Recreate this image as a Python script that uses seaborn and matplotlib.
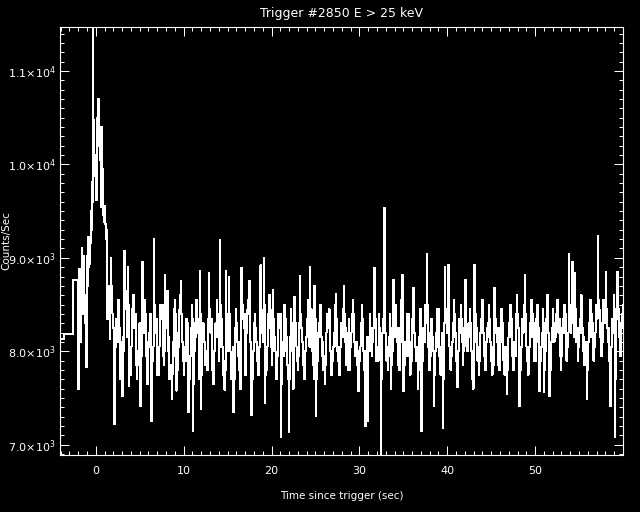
import numpy as np
import pandas as pd
import matplotlib
matplotlib.use("Agg")
import matplotlib.pyplot as plt
from matplotlib.ticker import MultipleLocator, FixedLocator
import seaborn as sns

# pre-trigger coarse bins (edges in sec, rate in counts/sec)
pre_edges = [-4.07, -3.6, -2.56, -2.0]
pre_rate = [8130, 8180, 8760]

# fine bins start at -2.0 s, 64 ms wide
fine_start = -2.0
fine_dt = 0.064

rate_rise = [7600, 8300, 8880, 8500, 8100, 8750, 9100, 8400, 8450, 8800, 9020, 8600,
             8300, 7900, 7830, 8650, 9020, 8700, 9220, 8900, 8930, 9150, 9500, 9300]
rate_peak = [9810, 9600, 11600, 10200, 10480, 9950, 9870, 10100, 9620, 9900, 10500, 10200,
             10700, 10350, 10400, 10050, 9540, 9800, 10400, 9950, 9660, 9450, 9380, 9550,
             9360, 9200, 9300, 8900, 8340, 8600, 8700, 8450, 8130, 8500]
rate_tail = [9000, 8700, 8650, 8400, 8250, 7900, 7220, 8100, 8050, 8350]

rate_bg1 = [8250, 8100, 8400, 8550, 8100, 8250, 7850, 7700, 7950, 8100, 7520, 7750, 8150, 8000,
            9070, 8450, 8500, 8650, 8300, 8150, 8900, 8500, 7630, 7800, 7900, 7750, 8050, 8200,
            8450, 8300, 8600, 8450, 8250, 8400, 7850, 8000, 7700, 7850, 8000, 7850, 8150, 8300,
            7410, 7700, 7950, 8100, 8960, 8450, 8350, 8200, 8550, 8400, 8100, 7950, 7800, 7650,
            7950, 8100, 8200, 8050, 8400, 8250, 7250, 7700, 7900, 8050, 9200, 8500, 8450, 8300,
            8200, 8350, 7750, 7900, 7900, 7750, 8050, 8200, 8500, 8350, 8350, 8500, 8100, 7950,
            7850, 8000, 8820, 8400, 8400, 8250, 8650, 8500, 8000, 8150, 7700, 7850, 7850, 7700,
            7490, 7750, 8100, 7950, 8300, 8450, 8550, 8400, 7580, 7800, 7950, 7800, 8200, 8050,
            8450, 8600, 8750, 8400, 8250, 8100, 7900, 8050, 7750, 7900, 8050, 7900, 8350, 8200,
            8150, 8300, 7350, 7700, 7800, 7950, 8250, 8100, 8500, 8350, 7145, 7650, 8000, 8150,
            8300, 8150, 8550, 8400, 8200, 8350, 7850, 7700, 8860, 8400, 7380, 7750, 7950, 8100,
            8300, 8150]
rate_bg2 = [8100, 7950, 7850, 8000, 7950, 7800, 8350, 8200, 8840, 8450, 8450, 8300, 8200, 8350,
            7800, 7950, 7650, 7800, 8000, 8150, 8300, 8150, 8550, 8400, 8150, 8300, 7900, 8050,
            9190, 8500, 8350, 8200, 8050, 7900, 7750, 7900, 7590, 7800, 8860, 8400, 8400, 8250,
            8150, 8000, 8800, 8400, 8000, 7850, 7700, 7850, 7900, 8050, 7350, 7700, 8100, 8250,
            8450, 8300, 8250, 8100, 7950, 8100, 7800, 7650, 7600, 7800, 8890, 8450, 8500, 8350,
            8250, 8400, 7900, 7750, 8050, 8200, 8300, 8450, 8550, 8400, 8750, 8400, 8100, 7950,
            7320, 7700, 7850, 8000, 8150, 8300, 8400, 8250, 8250, 8100, 7900, 8050, 7750, 7900,
            8050, 8200, 8920, 8450, 8350, 8200, 8100, 8250, 9000, 8500, 7450, 7750, 7800, 7950,
            8050, 8200, 8400, 8250, 8600, 8450, 8200, 8050, 7850, 8000, 8660, 8350, 8300, 8150,
            8000, 7850, 7700, 7850, 7950, 8100, 8400, 8250, 8250, 8400, 7080, 7650, 7800, 7950,
            8100, 7950, 8500, 8350, 8350, 8200, 8000, 8150, 7850, 7700, 7134, 7700, 8150, 8000,
            8450, 8300]
rate_bg3 = [8250, 8100, 7600, 7850, 8580, 8350, 8300, 8150, 8050, 7900, 7800, 7950, 8150, 8300,
            8810, 8400, 8400, 8250, 8100, 7950, 7850, 8000, 7700, 7850, 8000, 8150, 8350, 8200,
            8550, 8400, 8200, 8050, 8900, 8450, 8450, 8300, 8000, 8150, 7850, 7700, 8700, 8350,
            7310, 7700, 7750, 7900, 8050, 8200, 8300, 8150, 8500, 8350, 8150, 8000, 7950, 8100,
            7800, 7950, 7650, 7850, 8050, 8200, 8400, 8250, 8250, 8400, 8450, 8300, 8000, 7850,
            7750, 7900, 7900, 8050, 8200, 8050, 8350, 8500, 8610, 8350, 8150, 8000, 7900, 8050,
            7750, 7900, 8050, 8200, 8300, 8150, 8450, 8300, 8700, 8400, 8100, 8250, 7850, 8000,
            7950, 7800, 8200, 8350, 7800, 7950, 8050, 8200, 8400, 8250, 8550, 8400, 8250, 8100,
            7950, 8100, 8100, 7950, 7850, 8000, 7570, 7800, 7900, 8050, 8300, 8150, 8500, 8350,
            8150, 8000, 7800, 7950, 7200, 7650, 8000, 8150, 7250, 7700, 8150, 8000, 8400, 8250,
            8250, 8100, 7950, 8100, 8100, 8250, 8890, 8450, 8350, 8200, 7900, 8050, 8050, 7900,
            8400, 8250]
rate_bg4 = [8150, 8000, 6850, 7700, 8050, 8200, 8350, 8200, 9530, 8450, 8200, 8050, 7900, 8050,
            7800, 7950, 8150, 8000, 8400, 8250, 7600, 7850, 8000, 8150, 8760, 8400, 8300, 8150,
            8500, 8350, 8100, 8250, 7850, 8000, 7950, 7800, 8250, 8100, 8550, 8400, 8820, 8450,
            7570, 7800, 7850, 8000, 8100, 7950, 8400, 8250, 8250, 8400, 7950, 8100, 7750, 7900,
            8050, 7900, 8350, 8200, 8680, 8400, 8200, 8050, 7900, 8050, 8050, 7900, 7600, 7800,
            8150, 8300, 8450, 8300, 7145, 7650, 7900, 8050, 8250, 8100, 8500, 8350, 8300, 8450,
            9040, 8500, 8050, 8200, 7800, 7950, 7950, 8100, 8350, 8200, 8150, 8000, 7410, 7750,
            7850, 8000, 8200, 8050, 8450, 8300, 8300, 8450, 7950, 7800, 7750, 7900, 8050, 8200,
            7180, 7700, 8150, 8300, 8900, 8450, 8450, 8300, 8200, 8350, 8920, 8450, 8050, 7900,
            7800, 7950, 7950, 8100, 8300, 8150, 8550, 8400, 8200, 8050, 7900, 7750, 7620, 7850,
            8000, 8150, 8350, 8200, 8500, 8350, 8100, 8250, 7850, 8000, 8050, 8200, 8760, 8400,
            8250, 8100]
rate_bg5 = [8000, 8150, 8300, 8150, 8450, 8300, 8150, 8000, 7850, 7700, 7600, 7850, 8920, 8450,
            8400, 8250, 8100, 8250, 7900, 8050, 7750, 7900, 8050, 8200, 8350, 8200, 8550, 8400,
            8200, 8050, 7950, 8100, 7800, 7950, 8100, 8250, 8300, 8150, 8500, 8350, 8250, 8100,
            7900, 8050, 7750, 7900, 8000, 7850, 8680, 8350, 8350, 8200, 8100, 8250, 7850, 8000,
            7950, 7800, 8250, 8100, 8450, 8300, 8150, 8300, 7900, 8050, 7750, 7900, 8050, 7900,
            7540, 7800, 8000, 8150, 8300, 8150, 8500, 8350, 8200, 8350, 7950, 8100, 7800, 7950,
            8100, 7950, 8400, 8250, 8600, 8400, 8250, 8100, 7410, 7750, 7800, 7950, 8050, 8200,
            8350, 8200, 8500, 8350, 8820, 8400, 8200, 8050, 7900, 8050, 7750, 7900, 8050, 8200,
            8300, 8150, 8550, 8400, 8150, 8300, 7900, 8050, 8050, 7900, 8350, 8200, 8500, 8350,
            8100, 8250, 7570, 7800, 7900, 8050, 8200, 8050, 8450, 8300, 7560, 7800, 8000, 8150,
            8350, 8200, 8600, 8400, 8200, 8050, 7520, 7800, 7950, 8100, 8250, 8100, 8450, 8300,
            8100, 8250]
rate_bg6 = [8150, 8300, 8400, 8250, 8550, 8400, 8200, 8350, 7950, 8100, 7800, 7950, 8100, 8250,
            8350, 8200, 8500, 8350, 8250, 8400, 7900, 8050, 8050, 8200, 9040, 8500, 8400, 8250,
            8200, 8350, 8960, 8450, 8300, 8150, 8840, 8450, 8450, 8300, 8100, 8250, 7900, 8050,
            8050, 8200, 8350, 8200, 8600, 8450, 8250, 8100, 8000, 8150, 7850, 8000, 8100, 7950,
            7490, 7800, 7950, 8100, 8300, 8150, 8550, 8400, 8400, 8250, 8150, 8300, 7900, 8050,
            8050, 8200, 8350, 8500, 8500, 8350, 9230, 8550, 8450, 8300, 8150, 8300, 7950, 8100,
            8250, 8100, 8550, 8400, 8300, 8450, 8850, 8450, 8400, 8250, 8100, 8250, 7900, 8050,
            7410, 7750, 8050, 8200, 8350, 8200, 8600, 8450, 7080, 7700, 8200, 8350, 8850, 8450,
            8450, 8300, 8150, 8300, 7950, 8100, 8250, 8400, 8500, 8350, 8300, 8450]

y_ticks = [7000, 8000, 9000, 10000, 11000]
y_labels = [r"$7.0{\times}10^{3}$", r"$8.0{\times}10^{3}$", r"$9.0{\times}10^{3}$",
            r"$1.0{\times}10^{4}$", r"$1.1{\times}10^{4}$"]
x_ticks = [0, 10, 20, 30, 40, 50]

fine_rate = (rate_rise + rate_peak + rate_tail + rate_bg1 + rate_bg2 + rate_bg3
             + rate_bg4 + rate_bg5 + rate_bg6)
fine_edges = fine_start + fine_dt * np.arange(len(fine_rate) + 1)

edges = np.concatenate([pre_edges[:-1], fine_edges])
rate = np.array(pre_rate + fine_rate, dtype=float)
df = pd.DataFrame({"t": edges, "rate": np.append(rate, rate[-1])})

sns.set_theme(style="ticks")
plt.rcParams.update({
    "font.family": ["DejaVu Sans"],
    "mathtext.default": "regular",
    "figure.facecolor": "black",
    "axes.facecolor": "black",
    "axes.edgecolor": "white",
    "text.color": "white",
    "axes.labelcolor": "white",
    "xtick.color": "white",
    "ytick.color": "white",
})

fig = plt.figure(figsize=(6.4, 5.12), dpi=100)
ax = fig.add_axes([60 / 640, 57 / 512, 563 / 640, 428 / 512])

sns.lineplot(data=df, x="t", y="rate", drawstyle="steps-post", color="white",
             linewidth=0.72, estimator=None, sort=False, ax=ax, antialiased=False)

ax.set_xlim(-4.07, 60.0)
ax.set_ylim(6890, 11470)
ax.xaxis.set_major_locator(FixedLocator(x_ticks))
ax.xaxis.set_minor_locator(MultipleLocator(1))
ax.yaxis.set_major_locator(FixedLocator(y_ticks))
ax.yaxis.set_minor_locator(MultipleLocator(100))
ax.set_yticklabels(y_labels)

ax.tick_params(which="both", direction="in", top=True, right=True, width=0.72, labelsize=8)
ax.tick_params(which="major", length=6.5)
ax.tick_params(which="minor", length=3)
ax.tick_params(axis="x", pad=8)
ax.tick_params(axis="y", pad=3)
for s in ax.spines.values():
    s.set_color("white")
    s.set_linewidth(0.8)

ax.set_xlabel("Time since trigger (sec)", fontsize=7.5)
ax.xaxis.set_label_coords(0.5, -0.085)
ax.set_ylabel("Counts/Sec", fontsize=7.5)
ax.yaxis.set_label_coords(-0.086, 0.5)
ax.set_title("Trigger #2850 E > 25 keV", fontsize=9, pad=7)

fig.savefig("out.png", dpi=100, facecolor="black")
